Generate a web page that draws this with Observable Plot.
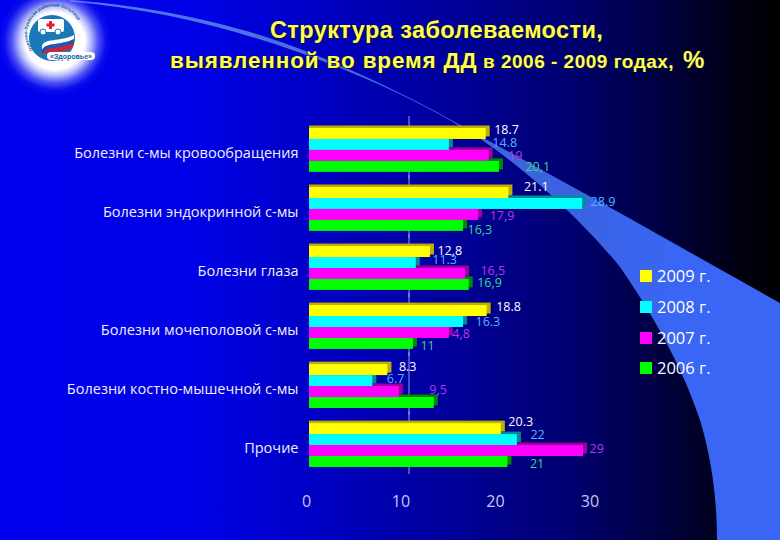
<!DOCTYPE html>
<html lang="ru">
<head>
<meta charset="utf-8">
<script src="https://cdn.jsdelivr.net/npm/d3@7"></script>
<script src="https://cdn.jsdelivr.net/npm/@observablehq/plot@0.6"></script>
<style>
html,body{margin:0;padding:0;background:#000;}
#slide{position:relative;width:780px;height:540px;overflow:hidden;font-family:"Open Sans",sans-serif;
 background:linear-gradient(90deg,#0000ee 0,#0000e6 200px,#0000c0 330px,#00009a 450px,#000070 570px,#000040 660px,#000010 740px,#000 780px);}
#band{position:absolute;left:0;top:0;width:780px;height:540px;
 background:linear-gradient(90deg,#5a7cf4 0,#3f68dc 450px,#3a62e0 560px,#3a66f5 680px);
 clip-path:path("M70 0 C150 6 210 20 260 35 C320 54 380 82 433 110 L620 213 L780 303 L780 540 L717 540 C717 500 712 460 700 420 C685 375 660 325 620 267 C590 230 540 180 482 140 C440 112 390 88 340 68 C260 36 170 10 70 1.5 Z");}
#glow{position:absolute;left:-2px;top:-14px;width:114px;height:110px;border-radius:50%;
 background:radial-gradient(closest-side,#fff 0,#fff 52%,rgba(225,230,255,.85) 62%,rgba(140,150,250,.55) 76%,rgba(60,60,245,.22) 89%,rgba(0,0,238,0) 100%);}
#logo{position:absolute;left:0;top:0;}
#head{position:relative;height:100px;color:#ffff50;font-family:"Liberation Sans",Arial,sans-serif;font-weight:bold;
 text-shadow:1px 1px 1px #101040,-1px 0 1px #101040;white-space:nowrap;}
#head div{position:absolute;line-height:24px;}
#plotbox{position:relative;height:440px;}
#legend{position:absolute;left:640px;top:0;color:#fff;font-size:16.5px;}
#legend div{position:absolute;left:0;width:100px;height:12px;line-height:12px;padding-left:17px;}
#legend i{position:absolute;left:0;top:0;width:12px;height:12px;}
</style>
</head>
<body>
<div id="slide">
  <div id="band"></div>
  <div id="glow"></div>
  <svg id="logo" width="110" height="75" viewBox="0 0 110 75">
    <defs><path id="ring" d="M33 50 A27 27 0 1 1 80 42"/></defs>
    <circle cx="52" cy="38" r="23" fill="#1a78b8"/>
    <rect x="38" y="19" width="26" height="13" rx="2" fill="#fff"/>
    <rect x="49" y="21" width="3" height="8" fill="#e02030"/><rect x="46.5" y="23.5" width="8" height="3" fill="#e02030"/>
    <circle cx="43" cy="32" r="3" fill="#fff" stroke="#1a78b8"/><circle cx="58" cy="32" r="3" fill="#fff" stroke="#1a78b8"/>
    <path d="M42 46 C44 38 60 42 74 35 L74 39 C60 46 46 42 42 50Z" fill="#fff"/>
    <path d="M42 50 C46 42 60 46 74 39 L74 43 C60 50 46 46 42 54Z" fill="#2a50b0"/>
    <path d="M42 54 C46 46 60 50 74 43 C73 47 72 48 71 49 C60 53 48 50 42 55Z" fill="#d82030"/>
    <text font-size="4.6" font-weight="bold" fill="#205a90" font-family="Liberation Sans"><textPath href="#ring">Орехово-Зуевская районная больница</textPath></text>
    <rect x="47" y="52" width="48" height="8" rx="4" fill="#fff"/>
    <text x="71" y="58.5" text-anchor="middle" font-size="7" font-weight="bold" fill="#1a60a0" font-family="Liberation Sans">«Здоровье»</text>
  </svg>
  <div id="head">
    <div style="left:270px;top:18px;font-size:23.5px;letter-spacing:.4px">Структура заболеваемости,</div>
    <div style="left:170px;top:48.5px;font-size:22.5px;letter-spacing:.85px">выявленной во время ДД</div>
    <div style="left:483px;top:49.5px;font-size:19px;letter-spacing:.5px">в 2006 - 2009 годах,</div>
    <div style="left:683px;top:47.5px;font-size:24px">%</div>
  </div>
  <div id="plotbox"></div>
  <div id="legend"></div>
</div>
<script>
const categories = ["Болезни с-мы кровообращения","Болезни эндокринной с-мы","Болезни глаза","Болезни мочеполовой с-мы","Болезни костно-мышечной с-мы","Прочие"];
const years = ["2009 г.","2008 г.","2007 г.","2006 г."];
const values2009 = [18.7,21.1,12.8,18.8,8.3,20.3];
const values2008 = [14.8,28.9,11.3,16.3,6.7,22];
const values2007 = [19,17.9,16.5,14.8,9.5,29];
const values2006 = [20.1,16.3,16.9,11,13.2,21];
const labels2009 = ["18.7","21.1","12,8","18.8","8.3","20.3"];
const labels2008 = ["14.8","28.9","11.3","16.3","6.7","22"];
const labels2007 = ["19","17,9","16,5","4,8","9,5","29"];
const labels2006 = ["20,1","16,3","16,9","11","","21"];
const xTicks = [0,10,20,30];

const colors = ["#ffff00","#00ffff","#ff00ff","#00ff00"];
const sideColors = ["#bfb000","#008c96","#a000a0","#008a00"];
const labelColors = ["#ffffff","#55b4ff","#b838e8","#38d888"];
const nudges = [
 [[8,-4],[15,-6],[7,-1],[9,-4],[11,-3],[7,-7]],
 [[43,-2],[8,-2],[16,-3],[12,0],[14,-2],[13,-5]],
 [[19,0],[11,1],[15,-3],[3,1],[30,-2],[6,-2]],
 [[26,0],[4,4],[8,-2],[7,2],[0,0],[22,2]]
];

const seriesValues = [values2009,values2008,values2007,values2006];
const seriesLabels = [labels2009,labels2008,labels2007,labels2006];
const rows = years.flatMap((year,s)=>categories.map((category,c)=>({
  category,year,s,c,value:seriesValues[s][c],label:seriesLabels[s][c]
})));

const labelMarks = rows.filter(d=>d.label).map(d=>Plot.text([d],{
  x:"value",y:"year",fy:"category",text:"label",textAnchor:"start",
  fill:labelColors[d.s],fontSize:12.5,dx:nudges[d.s][d.c][0],dy:nudges[d.s][d.c][1]
}));

const chart = Plot.plot({
  width:780,height:440,
  marginLeft:309,marginRight:187.5,marginTop:28,marginBottom:73,
  style:{background:"transparent",fontFamily:"'Open Sans',sans-serif",overflow:"visible"},
  x:{domain:[0,30],label:null},
  y:{domain:years,padding:0,round:false,axis:null,label:null},
  fy:{domain:categories,padding:0.257,round:false,label:null,axis:null},
  color:{domain:years,range:colors},
  marks:[
    Plot.ruleX([10],{dx:5,stroke:"#a8aee0",strokeOpacity:.9,insetTop:-12,insetBottom:-7}),
    Plot.barX(rows,{x:"value",y:"year",fy:"category",fill:d=>sideColors[d.s],dy:-2.5,insetRight:-4}),
    Plot.barX(rows,{x:"value",y:"year",fy:"category",fill:"year"}),
    Plot.axisFy({anchor:"left",tickSize:0,tickPadding:11,label:null,fontSize:14.5,fill:"#f0f0f8",dy:3}),
    Plot.axisX(xTicks,{anchor:"bottom",tickSize:0,tickPadding:28,label:null,fontSize:16,fill:"#c8c8f0",dx:-3}),
    ...labelMarks
  ]
});
document.getElementById("plotbox").appendChild(chart);

const legendTops = years.map((_,i)=>[270,301,332,362][i]);
const legend = document.getElementById("legend");
years.forEach((y,i)=>{
  const row=document.createElement("div");
  row.style.top=legendTops[i]+"px";
  const sw=document.createElement("i");sw.style.background=colors[i];
  row.appendChild(sw);row.appendChild(document.createTextNode(y));
  legend.appendChild(row);
});
</script>
</body>
</html>
